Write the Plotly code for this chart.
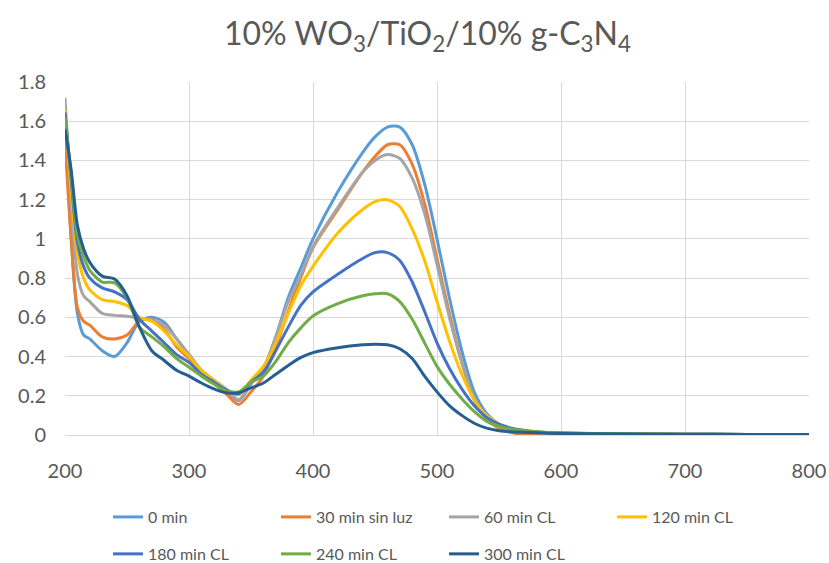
import plotly.graph_objects as go

wavelength = [200, 205, 210, 215, 220, 230, 240, 250, 260, 270, 280, 290, 300, 310, 320, 330, 340, 350, 360, 370,
              380, 390, 400, 420, 440, 450, 460, 470, 480, 490, 500, 510, 520, 530, 540, 550, 560, 580, 600, 650,
              700, 750, 800]

min_0 = [1.60, 1.00, 0.62, 0.51, 0.49, 0.43, 0.40, 0.47, 0.58, 0.60, 0.575, 0.49, 0.41, 0.33, 0.28, 0.23, 0.175, 0.26, 0.34, 0.50,
         0.70, 0.85, 1.00, 1.24, 1.44, 1.52, 1.57, 1.57, 1.48, 1.28, 1.00, 0.70, 0.43, 0.22, 0.11, 0.055, 0.03, 0.015, 0.01, 0.006,
         0.004, 0.003, 0.002]
min_30_dark = [1.50, 1.00, 0.65, 0.58, 0.56, 0.50, 0.49, 0.51, 0.58, 0.59, 0.54, 0.45, 0.39, 0.32, 0.27, 0.21, 0.155, 0.22, 0.30, 0.45,
               0.63, 0.80, 0.955, 1.15, 1.34, 1.42, 1.48, 1.48, 1.38, 1.18, 0.90, 0.62, 0.37, 0.18, 0.08, 0.035, 0.012, 0.0, 0.004, 0.004,
               0.003, 0.002, 0.001]
min_60 = [1.72, 1.20, 0.82, 0.71, 0.68, 0.62, 0.61, 0.605, 0.595, 0.585, 0.56, 0.49, 0.41, 0.33, 0.28, 0.235, 0.18, 0.26, 0.34, 0.50,
          0.68, 0.81, 0.96, 1.16, 1.34, 1.40, 1.43, 1.41, 1.31, 1.13, 0.87, 0.60, 0.37, 0.19, 0.09, 0.045, 0.025, 0.012, 0.008, 0.005,
          0.003, 0.002, 0.002]
min_120 = [1.66, 1.25, 0.93, 0.80, 0.74, 0.69, 0.68, 0.66, 0.60, 0.58, 0.53, 0.46, 0.40, 0.33, 0.28, 0.23, 0.205, 0.28, 0.35, 0.47,
           0.62, 0.76, 0.86, 1.03, 1.15, 1.19, 1.20, 1.165, 1.05, 0.89, 0.68, 0.48, 0.31, 0.18, 0.10, 0.055, 0.03, 0.015, 0.01, 0.006,
           0.004, 0.003, 0.002]
min_180 = [1.645, 1.30, 0.98, 0.86, 0.80, 0.75, 0.73, 0.69, 0.59, 0.53, 0.47, 0.41, 0.37, 0.31, 0.27, 0.23, 0.21, 0.27, 0.32, 0.43,
           0.55, 0.66, 0.73, 0.82, 0.90, 0.93, 0.93, 0.89, 0.78, 0.63, 0.47, 0.34, 0.235, 0.15, 0.09, 0.055, 0.035, 0.017, 0.01, 0.006,
           0.004, 0.003, 0.002]
min_240 = [1.62, 1.32, 1.02, 0.91, 0.84, 0.78, 0.776, 0.70, 0.55, 0.50, 0.45, 0.39, 0.345, 0.30, 0.26, 0.225, 0.22, 0.27, 0.30, 0.375,
           0.47, 0.545, 0.607, 0.67, 0.71, 0.72, 0.72, 0.68, 0.59, 0.47, 0.35, 0.26, 0.185, 0.12, 0.07, 0.045, 0.03, 0.017, 0.01, 0.006,
           0.004, 0.003, 0.002]
min_300 = [1.56, 1.35, 1.07, 0.95, 0.88, 0.81, 0.795, 0.71, 0.55, 0.43, 0.38, 0.33, 0.30, 0.265, 0.235, 0.215, 0.215, 0.24, 0.265, 0.31,
           0.355, 0.395, 0.42, 0.445, 0.46, 0.463, 0.46, 0.44, 0.39, 0.30, 0.22, 0.15, 0.10, 0.06, 0.035, 0.022, 0.016, 0.012, 0.008, 0.005,
           0.004, 0.003, 0.002]

series_names = ["0 min", "30 min sin luz", "60 min CL", "120 min CL", "180 min CL", "240 min CL", "300 min CL"]
series_values = [min_0, min_30_dark, min_60, min_120, min_180, min_240, min_300]
colors = ["#5B9BD5", "#ED7D31", "#A5A5A5", "#FFC000", "#4472C4", "#70AD47", "#255E91"]

FONT = "Lato"
TXT = "#595959"

fig = go.Figure()
for i, (name, vals, col) in enumerate(zip(series_names, series_values, colors)):
    fig.add_trace(go.Scatter(
        x=wavelength, y=vals, name=name, mode="lines",
        line=dict(color=col, width=3, shape="spline", smoothing=0.8),
        legend="legend" if i < 4 else "legend2",
    ))

fig.update_layout(
    width=829, height=563,
    paper_bgcolor="white", plot_bgcolor="white",
    margin=dict(l=65, r=20, t=82, b=128, autoexpand=False),
    title=dict(text="10% WO<sub>3</sub>/TiO<sub>2</sub>/10% g-C<sub>3</sub>N<sub>4</sub>",
               xref="container", yref="container",
               x=0.5157, xanchor="center", y=0.94, yanchor="middle",
               font=dict(family=FONT, size=32, color=TXT)),
    font=dict(family=FONT, color=TXT),
    showlegend=True,
    legend=dict(orientation="h", x=0.0578, xanchor="left", y=-0.2323, yanchor="middle",
                entrywidth=123, entrywidthmode="pixels",
                font=dict(family=FONT, size=16, color=TXT), bgcolor="rgba(0,0,0,0)"),
    legend2=dict(orientation="h", x=0.0578, xanchor="left", y=-0.337, yanchor="middle",
                 entrywidth=123, entrywidthmode="pixels",
                 font=dict(family=FONT, size=16, color=TXT), bgcolor="rgba(0,0,0,0)"),
)
fig.update_xaxes(range=[200, 800], dtick=100, tick0=200, showgrid=True, gridcolor="#D9D9D9", gridwidth=1,
                 showline=True, linecolor="#D9D9D9", linewidth=1, zeroline=False, ticks="",
                 ticklabelstandoff=18,
                 tickfont=dict(family=FONT, size=20, color=TXT))
fig.update_yaxes(range=[0, 1.8], dtick=0.2, tick0=0, showgrid=True, gridcolor="#D9D9D9", gridwidth=1,
                 showline=False, zeroline=False, ticks="",
                 ticklabelstandoff=18,
                 tickfont=dict(family=FONT, size=20, color=TXT))

fig.write_html("out.html", config={"displayModeBar": False},
               post_script="document.body.style.margin='0';document.documentElement.style.overflow='hidden';")
